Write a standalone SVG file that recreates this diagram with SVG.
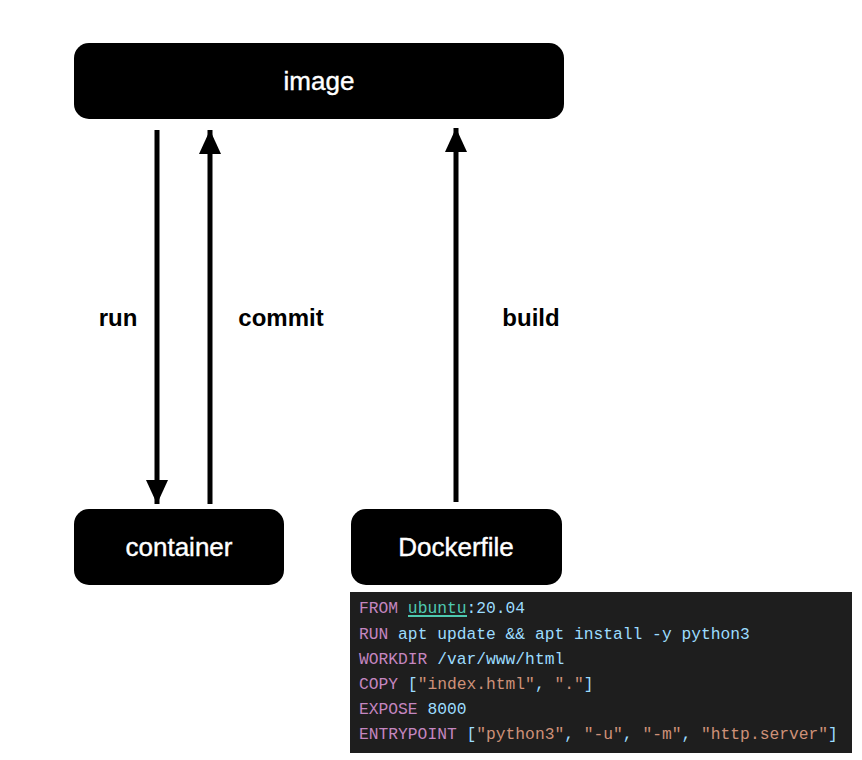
<svg xmlns="http://www.w3.org/2000/svg" width="862" height="760" viewBox="0 0 862 760">
<style>
.node{fill:#000;}
.nl{font-family:"Liberation Sans",Arial,sans-serif;font-size:26px;fill:#fff;stroke:#fff;stroke-width:0.4;text-anchor:middle;}
.el{font-family:"Liberation Sans",Arial,sans-serif;font-size:24px;font-weight:bold;fill:#000;text-anchor:middle;}
.ln{stroke:#000;stroke-width:5;fill:none;}
.code{font-family:"Liberation Mono","DejaVu Sans Mono",monospace;font-size:16.3px;}
.k{fill:#c586c0;}
.t{fill:#9cdcfe;}
.g{fill:#4ec9b0;}
.s{fill:#ce9178;}
</style>
<defs>
<marker id="ah" viewBox="0 0 24 22" refX="24" refY="11" markerWidth="24" markerHeight="22" markerUnits="userSpaceOnUse" orient="auto">
<path d="M0,0 L24,11 L0,22 Z" fill="#000"/>
</marker>
</defs>
<rect width="862" height="760" fill="#fff"/>
<g id="image"><rect class="node" x="74" y="43" width="490" height="76" rx="15"/><text class="nl" x="319" y="90">image</text></g>
<g id="container"><rect class="node" x="74" y="509" width="210" height="76" rx="15"/><text class="nl" x="179" y="556">container</text></g>
<g id="dockerfile"><rect class="node" x="351" y="509" width="211" height="76" rx="15"/><text class="nl" x="456" y="556">Dockerfile</text></g>
<g id="connectors">
<line class="ln" x1="157" y1="130" x2="157" y2="504" marker-end="url(#ah)"/>
<line class="ln" x1="210" y1="504" x2="210" y2="130" marker-end="url(#ah)"/>
<line class="ln" x1="456" y1="502" x2="456" y2="128" marker-end="url(#ah)"/>
<text class="el" x="118" y="326">run</text>
<text class="el" x="281" y="326">commit</text>
<text class="el" x="531" y="326">build</text>
</g>
<g id="code">
<rect x="350" y="592" width="502" height="161" fill="#1e1e1e"/>
<text class="code" x="359" y="613"><tspan class="k">FROM </tspan><tspan class="g">ubuntu</tspan><tspan class="t">:20.04</tspan></text>
<line x1="408" y1="616" x2="467" y2="616" stroke="#4ec9b0" stroke-width="2"/>
<text class="code" x="359" y="639"><tspan class="k">RUN </tspan><tspan class="t">apt update &amp;&amp; apt install -y python3</tspan></text>
<text class="code" x="359" y="664"><tspan class="k">WORKDIR </tspan><tspan class="t">/var/www/html</tspan></text>
<text class="code" x="359" y="689"><tspan class="k">COPY </tspan><tspan class="t">[</tspan><tspan class="s">"index.html"</tspan><tspan class="t">, </tspan><tspan class="s">"."</tspan><tspan class="t">]</tspan></text>
<text class="code" x="359" y="714"><tspan class="k">EXPOSE </tspan><tspan class="t">8000</tspan></text>
<text class="code" x="359" y="739"><tspan class="k">ENTRYPOINT </tspan><tspan class="t">[</tspan><tspan class="s">"python3"</tspan><tspan class="t">, </tspan><tspan class="s">"-u"</tspan><tspan class="t">, </tspan><tspan class="s">"-m"</tspan><tspan class="t">, </tspan><tspan class="s">"http.server"</tspan><tspan class="t">]</tspan></text>
</g>
</svg>
